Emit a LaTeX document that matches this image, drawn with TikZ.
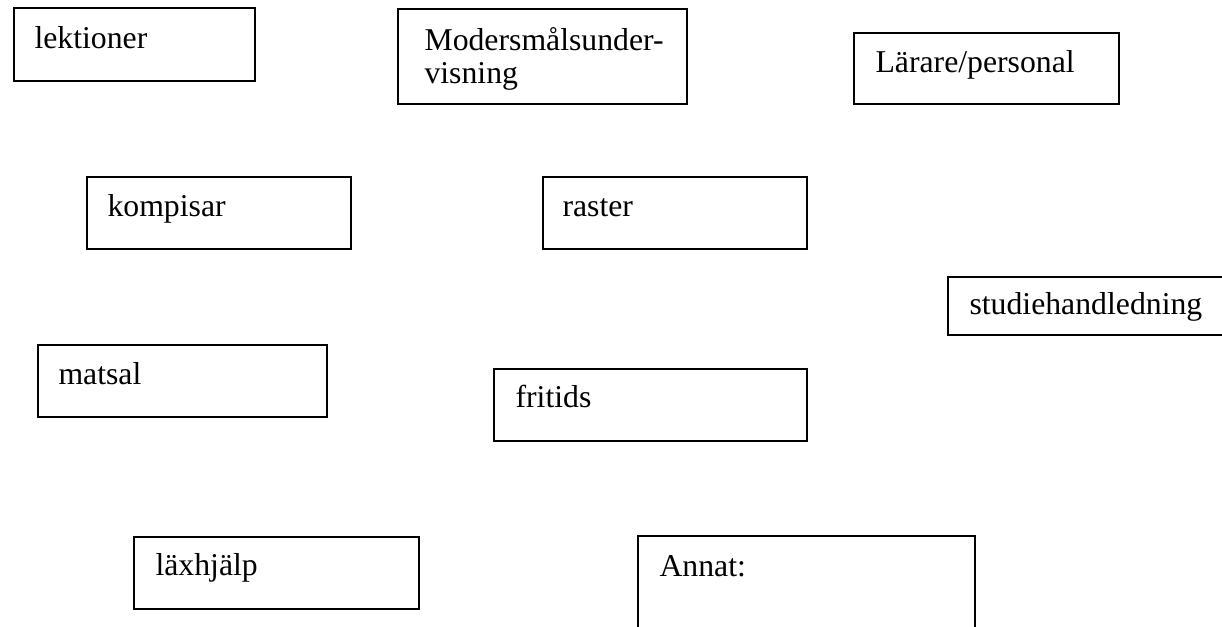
\documentclass[tikz,border=0pt]{standalone}
\usepackage{fontspec}
\setmainfont{Liberation Serif}
\newcommand\pxu{0.378pt}
\tikzset{
  box/.style={draw, line width=0.8pt, anchor=north west, inner sep=0pt},
  lbl/.style={anchor=base west, inner sep=0pt, font=\fontsize{12}{10.6}\selectfont}
}
\begin{document}
\begin{tikzpicture}[x=0.378pt, y=-0.378pt]
  \useasboundingbox (0,0) rectangle (1222,627);
  \node[box, minimum width=241*\pxu, minimum height=73*\pxu] (lektioner) at (13,7) {};
  \node[lbl] (lektioner-t) at ([shift={(21,42)}]lektioner.north west) {lektioner};
  \node[box, minimum width=289*\pxu, minimum height=95*\pxu] (moders) at (397,8) {};
  \node[lbl, align=left] (moders-t) at ([shift={(27,76)}]moders.north west) {Modersmålsunder-\\[2pt]visning};
  \node[box, minimum width=265*\pxu, minimum height=71*\pxu] (larare) at (853,32) {};
  \node[lbl] (larare-t) at ([shift={(22,41)}]larare.north west) {Lärare/personal};
  \node[box, minimum width=264*\pxu, minimum height=72*\pxu] (kompisar) at (86,176) {};
  \node[lbl] (kompisar-t) at ([shift={(21,41)}]kompisar.north west) {kompisar};
  \node[box, minimum width=264*\pxu, minimum height=72*\pxu] (raster) at (542,176) {};
  \node[lbl] (raster-t) at ([shift={(20,41)}]raster.north west) {raster};
  \node[box, minimum width=290*\pxu, minimum height=58*\pxu] (studie) at (947,276) {};
  \node[lbl] (studie-t) at ([shift={(22,39)}]studie.north west) {studiehandledning};
  \node[box, minimum width=289*\pxu, minimum height=72*\pxu] (matsal) at (37,344) {};
  \node[lbl] (matsal-t) at ([shift={(21,41)}]matsal.north west) {matsal};
  \node[box, minimum width=313*\pxu, minimum height=72*\pxu] (fritids) at (493,368) {};
  \node[lbl] (fritids-t) at ([shift={(22,40)}]fritids.north west) {fritids};
  \node[box, minimum width=285*\pxu, minimum height=72*\pxu] (laxhjalp) at (133,536) {};
  \node[lbl] (laxhjalp-t) at ([shift={(22,40)}]laxhjalp.north west) {läxhjälp};
  \node[box, minimum width=337*\pxu, minimum height=110*\pxu] (annat) at (637,535) {};
  \node[lbl] (annat-t) at ([shift={(22,42)}]annat.north west) {Annat:};
\end{tikzpicture}
\end{document}
